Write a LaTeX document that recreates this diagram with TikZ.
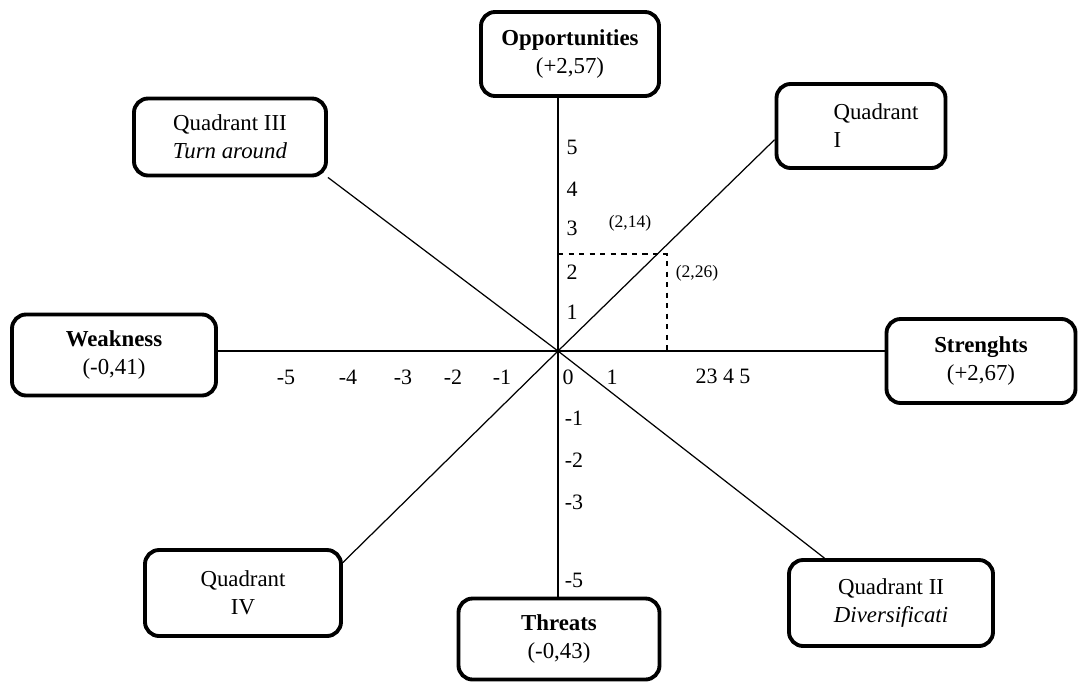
\documentclass[tikz,border=0pt]{standalone}
\usepackage{fontspec}
\setmainfont{Liberation Serif}
\usepackage{tikz}
\newcommand{\pxu}{0.02cm}

\begin{document}
\begin{tikzpicture}
[x=0.02cm, y=-0.02cm, line width=0.7pt, every node/.style={inner sep=0pt},
 box/.style 2 args={draw, line width=2.2pt, rounded corners=8pt, align=center,
   minimum width=#1*\pxu, minimum height=#2*\pxu, font=\fontsize{13}{16}\selectfont},
 tick/.style={font=\fontsize{12.5}{14}\selectfont},
 small/.style={font=\fontsize{10}{12}\selectfont}]
\useasboundingbox (0,0) rectangle (1081,684);

\node[box={178}{84}] (opp) at (570,54) {\textbf{Opportunities}\\(+2,57)};
\node[box={169}{84}, align=left] (q1) at (861,126) {\hspace*{0.6cm}Quadrant\\\hspace*{0.6cm}I};
\node[box={192}{77}] (q3) at (230,137) {Quadrant III\\\textit{Turn around}};
\node[box={204}{81}] (weak) at (114,355) {\textbf{Weakness}\\(-0,41)};
\node[box={189}{84}] (str) at (981,361) {\textbf{Strenghts}\\(+2,67)};
\node[box={204}{86}] (q2) at (891,603) {Quadrant II\\\textit{Diversificati}};
\node[box={201}{81}] (thr) at (559,639) {\textbf{Threats}\\(-0,43)};
\node[box={196}{86}] (q4) at (243,593) {Quadrant\\IV};

\coordinate (o) at (558,351);
\coordinate (p) at (667,254);

\draw (opp.south -| o) -- (thr.north -| o);
\draw (weak.east |- o) -- (str.west |- o);
\foreach \to in {q1.189,q3.south east,q2.146,q4.17}
	\draw (o) -- (\to);
\draw[dashed, line width=0.6pt] (o |- p) -- (p) -- (p |- o);

\foreach \v/\y in {5/147,4/189,3/228,2/272,1/312}
	\node[tick] (y\v) at (572,\y) {\v};
\foreach \n/\v/\y in {m1/-1/418,m2/-2/460,m3/-3/502,m5/-5/580}
	\node[tick] (y\n) at (574,\y) {\v};
\foreach \n/\v/\x in {m5/-5/286,m4/-4/348,m3/-3/403,m2/-2/453,m1/-1/502,0/0/568,1/1/612}
	\node[tick] (x\n) at (\x,377) {\v};
\node[tick] (xr) at (723,376) {23 4 5};

\node[small] (pa) at (630,223) {(2,14)};
\node[small] (pb) at (697,273) {(2,26)};

\end{tikzpicture}
\end{document}
